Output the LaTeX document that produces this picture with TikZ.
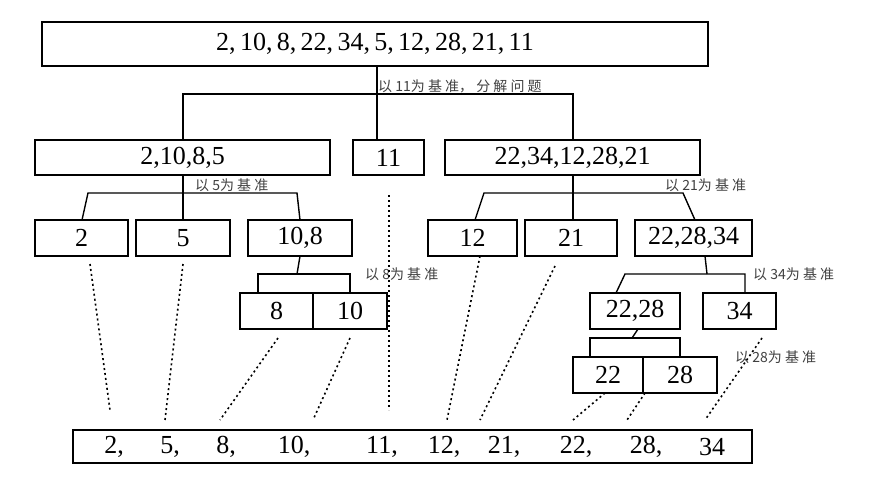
\documentclass[tikz,border=0pt]{standalone}
\usepackage{fontspec}
\setmainfont{Liberation Serif}
\newfontfamily\cjk{Noto Sans CJK SC}
\begin{document}
\begin{tikzpicture}[x=1pt,y=-1pt,
  thickbox/.style={draw,line width=2.8pt,font=\fontsize{26}{26}\selectfont},
  thinbox/.style={draw,line width=1.1pt,font=\fontsize{26}{26}\selectfont},
  lbl/.style={font=\cjk\fontsize{14}{14}\selectfont,text=black!75,anchor=west,inner sep=0pt},
  tree/.style={line width=1.4pt},
  dots/.style={line width=1.6pt,dash pattern=on 2pt off 3pt}]
\useasboundingbox (0,0) rectangle (872,501);
\def\bx#1#2#3#4#5#6#7{\node[#1,minimum width=#4-#3,minimum height=#6-#5,inner sep=0pt] (#2) at ({(#3+#4)/2},{(#5+#6)/2}) {#7};}
\bx{thickbox}{top}{42}{708}{22}{66}{2,\,10,\,8,\,22,\,34,\,5,\,12,\,28,\,21,\,11}
\bx{thickbox}{L}{35}{330}{140}{175}{2,10,8,5}
\bx{thickbox}{M}{353}{424}{140}{175}{11}
\bx{thickbox}{R}{445}{700}{140}{175}{22,34,12,28,21}
\bx{thinbox}{a2}{35}{128}{220}{256}{2}
\bx{thinbox}{a5}{136}{230}{220}{256}{5}
\bx{thinbox}{a108}{248}{352}{220}{256}{10,8}
\bx{thinbox}{a12}{428}{517}{220}{256}{12}
\bx{thinbox}{a21}{525}{617}{220}{256}{21}
\bx{thinbox}{a222834}{635}{752}{220}{256}{22,28,34}
\bx{thinbox}{b8}{240}{313}{293}{329}{8}
\bx{thinbox}{b10}{313}{387}{293}{329}{10}
\bx{thinbox}{b2228}{590}{680}{293}{329}{22,28}
\bx{thinbox}{b34}{703}{776}{293}{329}{34}
\bx{thinbox}{c22}{573}{643}{357}{393}{22}
\bx{thinbox}{c28}{643}{717}{357}{393}{28}
\bx{thickbox}{bot}{73}{752}{430}{463}{}
\foreach \t/\x in {{2,}/114,{5,}/170,{8,}/226,{10,}/294,{11,}/382,{12,}/444,{21,}/504,{22,}/576,{28,}/646,{34}/712}
  \node[font=\fontsize{26}{26}\selectfont] at (\x,447) {\t};
% tree lines
\draw[tree] (377,66) -- (M.north -| 377,0);
\draw[tree] (L.north -| 183,0) -- (183,94) -- (573,94) -- (573,140);
\draw[tree] (183,175) -- (183,220);
\draw[tree] (82,220) -- (88,193) -- (297,193) -- (300,220);
\draw[tree] (573,175) -- (573,220);
\draw[tree] (475,220) -- (484,193) -- (683,193) -- (695,220);
\draw[tree] (300,256) -- (297,274);
\draw[tree] (258,293) -- (258,274) -- (350,274) -- (350,293);
\draw[tree] (705,256) -- (707,274);
\draw[tree] (616,293) -- (625,274) -- (745,274) -- (745,293);
\draw[tree] (638,329) -- (632,338);
\draw[tree] (590,357) -- (590,338) -- (680,338) -- (680,357);
% labels
\node[lbl] at (378,86) {以 11为 基 准， 分 解 问 题};
\node[lbl] at (195,185) {以 5为 基 准};
\node[lbl] at (665,185) {以 21为 基 准};
\node[lbl] at (365,274) {以 8为 基 准};
\node[lbl] at (753,274) {以 34为 基 准};
\node[lbl] at (735,357) {以 28为 基 准};
% dotted
\draw[dots] (90,264) -- (110,410);
\draw[dots] (183,264) -- (165,420);
\draw[dots] (278,338) -- (220,420);
\draw[dots] (350,338) -- (313,420);
\draw[dots] (389,195) -- (389,410);
\draw[dots] (480,256) -- (447,420);
\draw[dots] (555,266) -- (480,420);
\draw[dots] (605,393) -- (573,420);
\draw[dots] (645,393) -- (627,420);
\draw[dots] (762,338) -- (705,420);
\end{tikzpicture}
\end{document}
